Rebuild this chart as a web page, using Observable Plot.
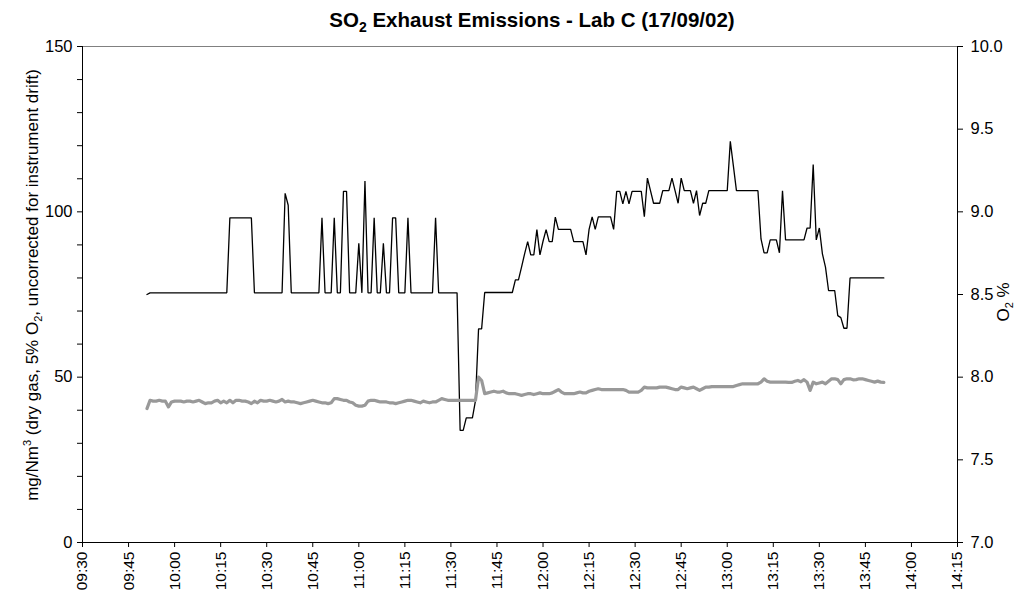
<!DOCTYPE html>
<html>
<head>
<meta charset="utf-8">
<script src="https://cdn.jsdelivr.net/npm/d3@7"></script>
<script src="https://cdn.jsdelivr.net/npm/@observablehq/plot@0.6"></script>
<style>
  html, body { margin: 0; padding: 0; background: #fff; }
  #chart svg { display: block; }
  #chart svg g[aria-label="y-axis tick label"] text,
  #chart svg g[aria-label="y-axis tick label"] { font-size: 16.5px; }
  #chart svg g[aria-label="x-axis tick label"] { font-size: 15.5px; }
</style>
</head>
<body>
<div id="chart"></div>
<script>
// One-minute logged readings, first sample at 09:51 on 17/09/2002
const firstSample = { hour: 9, minute: 51 };

// SO2, mg/Nm3 (dry gas, 5% O2)
const so2 = [
  75.0, 75.5, 75.5, 75.5, 75.5, 75.5, 75.5, 75.5, 75.5, 75.5,
  75.5, 75.5, 75.5, 75.5, 75.5, 75.5, 75.5, 75.5, 75.5, 75.5,
  75.5, 75.5, 75.5, 75.5, 75.5, 75.5, 75.5, 98.2, 98.2, 98.2,
  98.2, 98.2, 98.2, 98.2, 98.2, 75.5, 75.5, 75.5, 75.5, 75.5,
  75.5, 75.5, 75.5, 75.5, 75.5, 105.6, 102.0, 75.5, 75.5, 75.5,
  75.5, 75.5, 75.5, 75.5, 75.5, 75.5, 75.5, 98.2, 75.5, 75.5,
  75.5, 98.2, 75.5, 75.5, 106.2, 106.2, 75.5, 75.5, 75.5, 90.5,
  75.5, 109.3, 75.5, 75.5, 98.2, 75.5, 75.5, 90.5, 75.5, 75.5,
  98.2, 98.2, 75.5, 75.5, 75.5, 98.2, 75.5, 75.5, 75.5, 75.5,
  75.5, 75.5, 75.5, 75.5, 98.2, 75.5, 75.5, 75.5, 75.5, 75.5,
  75.5, 75.5, 33.9, 33.9, 37.7, 37.7, 37.7, 42.9, 64.6, 64.6,
  75.6, 75.6, 75.6, 75.6, 75.6, 75.6, 75.6, 75.6, 75.6, 75.6,
  79.4, 79.4, 83.3, 87.3, 91.0, 87.0, 87.0, 94.6, 87.0, 91.1,
  94.6, 91.0, 91.0, 98.4, 94.7, 94.7, 94.7, 94.7, 94.7, 91.0,
  91.0, 91.0, 91.0, 87.0, 94.7, 98.5, 94.7, 98.5, 98.5, 98.5,
  98.5, 98.5, 94.7, 106.2, 106.2, 102.4, 106.2, 102.4, 106.2, 106.2,
  106.2, 106.2, 98.5, 110.2, 106.4, 102.6, 102.6, 102.6, 106.4, 106.4,
  106.4, 110.2, 106.4, 102.6, 110.2, 106.4, 106.4, 106.4, 102.6, 106.4,
  98.9, 102.6, 102.6, 106.4, 106.4, 106.4, 106.4, 106.4, 106.4, 106.4,
  121.3, 113.9, 106.4, 106.4, 106.4, 106.4, 106.4, 106.4, 106.4, 106.4,
  91.8, 87.6, 87.6, 91.5, 91.5, 91.5, 87.6, 106.4, 91.5, 91.5,
  91.5, 91.5, 91.5, 91.5, 91.5, 95.1, 95.1, 114.3, 91.5, 95.1,
  87.3, 83.3, 76.2, 76.2, 76.2, 68.6, 68.0, 64.8, 64.8, 80.0,
  80.0, 80.0, 80.0, 80.0, 80.0, 80.0, 80.0, 80.0, 80.0, 80.0, 80.0
];

// O2, % (secondary axis)
const o2 = [
  7.81, 7.86, 7.855, 7.855, 7.86, 7.855, 7.855, 7.82, 7.85, 7.855,
  7.855, 7.855, 7.85, 7.855, 7.855, 7.85, 7.855, 7.86, 7.85, 7.84,
  7.845, 7.845, 7.855, 7.86, 7.845, 7.855, 7.845, 7.86, 7.845, 7.86,
  7.86, 7.855, 7.855, 7.85, 7.84, 7.855, 7.845, 7.86, 7.855, 7.855,
  7.86, 7.855, 7.85, 7.855, 7.865, 7.85, 7.855, 7.85, 7.85, 7.845,
  7.84, 7.845, 7.85, 7.855, 7.86, 7.855, 7.85, 7.845, 7.845, 7.84,
  7.845, 7.87, 7.87, 7.865, 7.86, 7.86, 7.85, 7.845, 7.83, 7.825,
  7.825, 7.83, 7.855, 7.86, 7.86, 7.855, 7.85, 7.85, 7.85, 7.845,
  7.845, 7.84, 7.845, 7.85, 7.855, 7.86, 7.86, 7.855, 7.85, 7.845,
  7.855, 7.85, 7.845, 7.85, 7.85, 7.86, 7.87, 7.865, 7.86, 7.86,
  7.86, 7.86, 7.86, 7.86, 7.86, 7.86, 7.86, 7.86, 8.0, 7.98,
  7.90, 7.905, 7.91, 7.915, 7.91, 7.91, 7.915, 7.905, 7.90, 7.90,
  7.90, 7.895, 7.89, 7.895, 7.90, 7.90, 7.895, 7.90, 7.905, 7.90,
  7.90, 7.90, 7.905, 7.915, 7.925, 7.91, 7.90, 7.90, 7.90, 7.90,
  7.905, 7.91, 7.905, 7.905, 7.915, 7.92, 7.925, 7.93, 7.925, 7.925,
  7.925, 7.925, 7.925, 7.925, 7.925, 7.925, 7.92, 7.91, 7.91, 7.91,
  7.91, 7.92, 7.94, 7.935, 7.935, 7.935, 7.935, 7.94, 7.94, 7.94,
  7.935, 7.93, 7.925, 7.925, 7.94, 7.935, 7.93, 7.935, 7.94, 7.93,
  7.92, 7.93, 7.94, 7.94, 7.943, 7.943, 7.943, 7.943, 7.943, 7.943,
  7.943, 7.943, 7.95, 7.955, 7.96, 7.96, 7.96, 7.96, 7.96, 7.96,
  7.97, 7.99, 7.975, 7.97, 7.97, 7.97, 7.97, 7.97, 7.97, 7.968,
  7.968, 7.975, 7.98, 7.972, 7.985, 7.97, 7.92, 7.97, 7.96, 7.965,
  7.97, 7.96, 7.975, 7.99, 7.99, 7.985, 7.96, 7.985, 7.99, 7.99,
  7.984, 7.985, 7.99, 7.99, 7.985, 7.98, 7.975, 7.97, 7.976, 7.97, 7.968
];

// Axis settings
const xStartLabel = "09:30";
const xEndLabel = "14:15";
const leftTicks = [0, 10, 20, 30, 40, 50, 60, 70, 80, 90, 100, 110, 120, 130, 140, 150];
const leftLabelled = [0, 50, 100, 150];
const rightTicks = [7.0, 7.5, 8.0, 8.5, 9.0, 9.5, 10.0];
const o2Min = 7.0, o2Max = 10.0;
const yMax = 150;

const day = (hh, mm) => new Date(Date.UTC(2002, 8, 17, hh, mm));
const parseHM = s => { const [h, m] = s.split(":").map(Number); return day(h, m); };
const xStart = parseHM(xStartLabel);
const xEnd = parseHM(xEndLabel);
const xTicks = d3.utcMinute.every(15).range(xStart, new Date(+xEnd + 1));

const rows = so2.map((v, i) => ({
  time: day(firstSample.hour, firstSample.minute + i),
  so2: v,
  o2: o2[i]
}));

// O2 values are placed on the left-axis range so both series share one y scale
const o2ToY = p => (p - o2Min) / (o2Max - o2Min) * yMax;

const font = "'Liberation Sans', Arial, sans-serif";

const svg = Plot.plot({
  width: 1032,
  height: 590,
  marginLeft: 82,
  marginRight: 75,
  marginTop: 46,
  marginBottom: 48,
  style: { fontFamily: font, fontSize: "16.5px", color: "#000", background: "#fff" },
  x: { type: "utc", domain: [xStart, xEnd] },
  y: { domain: [0, yMax] },
  marks: [
    Plot.ruleY([yMax], { stroke: "#808080", strokeWidth: 1 }),
    Plot.axisY({
      ticks: leftTicks,
      tickFormat: d => leftLabelled.includes(d) ? String(d) : "",
      tickSize: 5, tickPadding: 5, label: null
    }),
    Plot.axisY({
      anchor: "right",
      ticks: rightTicks.map(o2ToY),
      tickFormat: d => (o2Min + d / yMax * (o2Max - o2Min)).toFixed(1),
      tickSize: 5, tickPadding: 8, label: null
    }),
    Plot.axisX({
      ticks: xTicks,
      tickFormat: d3.utcFormat("%H:%M"),
      tickRotate: -90,
      tickSize: 5, tickPadding: 4, label: null,
      fontSize: 15.5
    }),
    Plot.ruleX([xStart], { stroke: "#000" }),
    Plot.ruleX([xEnd], { stroke: "#000" }),
    Plot.ruleY([0], { stroke: "#000" }),
    Plot.line(rows, { x: "time", y: "so2", stroke: "#000", strokeWidth: 1.3, strokeLinejoin: "miter" }),
    Plot.line(rows, { x: "time", y: d => o2ToY(d.o2), stroke: "#999999", strokeWidth: 3.2, strokeLinejoin: "round" })
  ]
});

document.getElementById("chart").appendChild(svg);

// Title and axis titles with sub/superscripts
const s = d3.select(svg);

const title = s.append("text")
  .attr("x", 532).attr("y", 27)
  .attr("text-anchor", "middle")
  .attr("font-family", font).attr("font-weight", "bold").attr("font-size", 20.5)
  .attr("fill", "#000");
title.append("tspan").text("SO");
title.append("tspan").attr("font-size", 14).attr("dy", 5).text("2");
title.append("tspan").attr("dy", -5).text(" Exhaust Emissions - Lab C (17/09/02)");

const yl = s.append("text")
  .attr("transform", "translate(38,285) rotate(-90)")
  .attr("text-anchor", "middle")
  .attr("font-family", font).attr("font-size", 17).attr("fill", "#000");
yl.append("tspan").text("mg/Nm");
yl.append("tspan").attr("font-size", 11).attr("dy", -7).text("3");
yl.append("tspan").attr("dy", 7).text(" (dry gas, 5% O");
yl.append("tspan").attr("font-size", 11).attr("dy", 4).text("2");
yl.append("tspan").attr("dy", -4).text(", uncorrected for instrument drift)");

const yr = s.append("text")
  .attr("transform", "translate(1009,302) rotate(-90)")
  .attr("text-anchor", "middle")
  .attr("font-family", font).attr("font-size", 17).attr("fill", "#000");
yr.append("tspan").text("O");
yr.append("tspan").attr("font-size", 11).attr("dy", 4).text("2");
yr.append("tspan").attr("dy", -4).text(" %");
</script>
</body>
</html>
